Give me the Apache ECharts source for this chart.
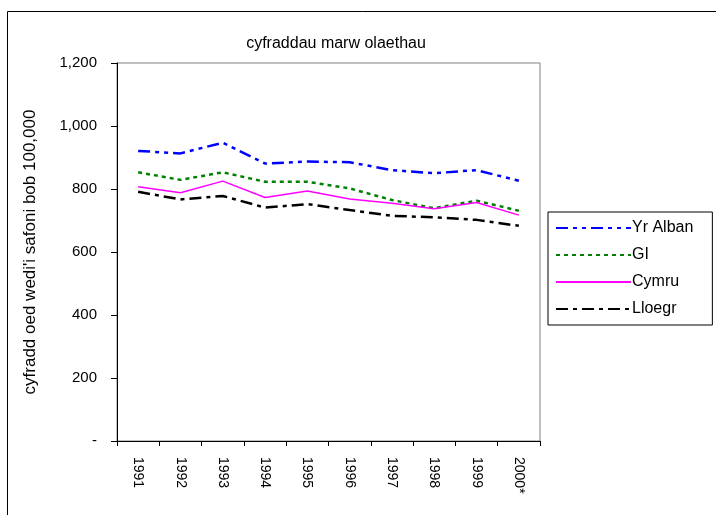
<!DOCTYPE html>
<html>
<head>
<meta charset="utf-8">
<script src="https://cdn.jsdelivr.net/npm/echarts@6/dist/echarts.min.js"></script>
<style>
  html, body { margin: 0; padding: 0; background: #fff; }
  #chart { width: 716px; height: 515px; }
</style>
</head>
<body>
<div id="chart"></div>
<script>
// blynyddoedd a chyfraddau
var years = ['1991', '1992', '1993', '1994', '1995', '1996', '1997', '1998', '1999', '2000*'];
var yrAlban = [921, 913, 947, 881, 887, 885, 860, 850, 860, 826];
var gi = [853, 829, 853, 823, 823, 802, 765, 739, 763, 731];
var cymru = [807, 788, 825, 773, 794, 768, 755, 737, 757, 717];
var lloegr = [791, 767, 778, 741, 752, 733, 715, 710, 702, 683];

lzh_chart();
function lzh_chart() {
    var dom = document.getElementById('chart');
    var myChart = echarts.init(dom, null, { renderer: 'canvas' });
    var font = 'Liberation Sans, Arial, sans-serif';

    function mkSeries(name, data, color, width, dash) {
        return {
            name: name,
            type: 'line',
            data: data,
            symbol: 'none',
            lineStyle: { color: color, width: width, type: dash },
            itemStyle: { color: color }
        };
    }

    var option = {
        animation: false,
        backgroundColor: '#fff',
        title: {
            text: 'cyfraddau marw olaethau',
            left: 331,
            textAlign: 'center',
            top: 31,
            textStyle: { fontFamily: font, fontWeight: 'normal', fontSize: 16, color: '#000' }
        },
        graphic: [{
            type: 'rect',
            shape: { x: 7.5, y: 11.5, width: 760, height: 600 },
            style: { fill: null, stroke: '#000', lineWidth: 1 },
            z: -1
        }],
        legend: {
            orient: 'vertical',
            left: 548,
            top: 212,
            padding: [8, 19, 8, 7],
            itemGap: 11,
            itemWidth: 75,
            itemHeight: 17,
            borderColor: '#000',
            borderWidth: 1,
            itemStyle: { opacity: 0 },
            textStyle: { fontFamily: font, fontSize: 16, color: '#000', padding: [0, 0, 0, -4] },
            data: ['Yr Alban', 'GI', 'Cymru', 'Lloegr']
        },
        grid: {
            left: 117,
            top: 63,
            right: 176,
            bottom: 74,
            show: true,
            borderColor: '#808080',
            borderWidth: 1
        },
        xAxis: {
            type: 'category',
            data: years,
            boundaryGap: true,
            axisLine: { lineStyle: { color: '#000', width: 1 } },
            axisTick: { show: true, length: 5, lineStyle: { color: '#000' } },
            axisLabel: {
                rotate: -90,
                margin: 16,
                color: '#000',
                fontFamily: font,
                fontSize: 14,
                interval: 0
            }
        },
        yAxis: {
            type: 'value',
            min: 0,
            max: 1200,
            interval: 200,
            name: "cyfradd oed wedi'i safoni bob 100,000",
            nameLocation: 'middle',
            nameGap: 78,
            nameTextStyle: { fontFamily: font, fontSize: 17, color: '#000' },
            axisLine: { show: true, lineStyle: { color: '#000', width: 1 } },
            axisTick: { show: true, length: 6, lineStyle: { color: '#000' } },
            splitLine: { show: false },
            axisLabel: {
                margin: 20,
                color: '#000',
                fontFamily: font,
                fontSize: 15,
                formatter: function (v) {
                    if (v === 0) return '-';
                    return v.toLocaleString('en-GB');
                }
            }
        },
        series: [
            mkSeries('Yr Alban', yrAlban, '#0000ff', 2.5, [12, 5, 4, 5, 4, 5]),
            mkSeries('GI', gi, '#008000', 2.5, [4, 4]),
            mkSeries('Cymru', cymru, '#ff00ff', 1.5, 'solid'),
            mkSeries('Lloegr', lloegr, '#000000', 2.5, [12, 5, 4, 5])
        ]
    };

    if (option && typeof option === 'object') {
        myChart.setOption(option);
    }
    window.addEventListener('resize', myChart.resize);
}
</script>
</body>
</html>
